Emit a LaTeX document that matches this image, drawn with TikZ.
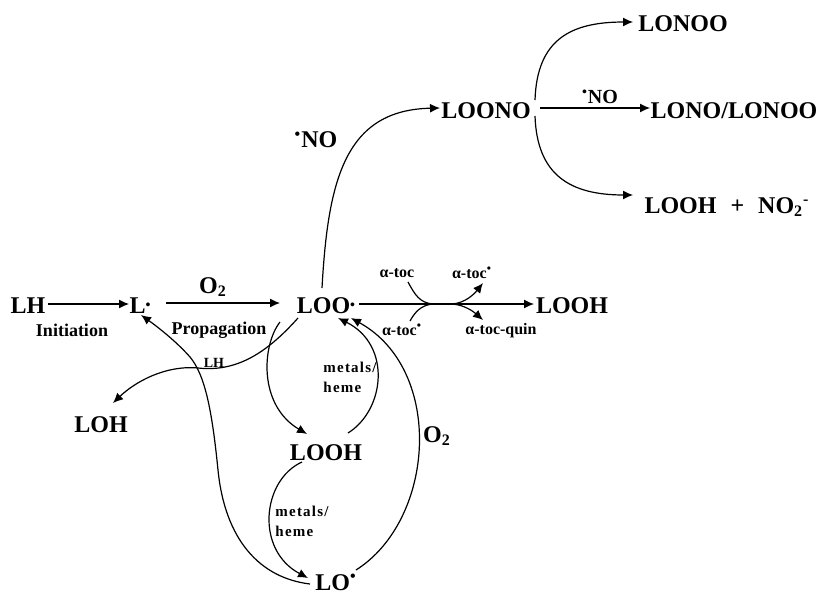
\documentclass[tikz,border=0pt]{standalone}
\usepackage{fontspec}
\setmainfont{Liberation Serif}
\newfontfamily\spacedfont[LetterSpace=8]{Liberation Serif}
\usetikzlibrary{arrows.meta}
\newcommand{\rdot}{\raisebox{1.8pt}{\fontsize{7}{7}\selectfont •}}
\newcommand{\sdot}{\textsuperscript{•}}
\begin{document}
\begin{tikzpicture}[x=0.5pt,y=-0.5pt,
 sp/.style={font=\fontsize{12}{14}\selectfont\bfseries, inner sep=0pt, anchor=base},
 lab/.style={font=\fontsize{9}{10}\selectfont\bfseries, inner sep=0pt},
 big/.style={font=\fontsize{12}{14}\selectfont\bfseries, inner sep=0pt},
 mid/.style={font=\fontsize{10}{12}\selectfont\bfseries, inner sep=0pt},
 toc/.style={font=\fontsize{8}{9}\selectfont\bfseries, inner sep=0pt},
 tiny/.style={font=\fontsize{7}{8}\selectfont\bfseries, inner sep=0pt},
 mh/.style={font=\spacedfont\bfseries\fontsize{7.5}{10}\selectfont, inner sep=0pt, align=left},
 conn/.style={line width=0.6pt, -{Latex[length=5pt,width=4.5pt]}},
 ln/.style={line width=0.6pt}]
\path[use as bounding box] (0,0) rectangle (823,594);

% species
\node[sp] (LH) at (28,313) {LH};
\node[sp] (L) at (140,313) {L\rdot};
\node[sp] (LOO) at (326,313) {LOO\rdot};
\node[sp] (LOOHr) at (572,313) {LOOH};
\node[sp] (LOH) at (101,432) {LOH};
\node[sp] (LOOHb) at (326,460) {LOOH};
\node[sp] (LO) at (336,590) {LO\sdot};
\node[sp] (LOONO) at (486,118) {LOONO};
\node[sp] (LONOO) at (683,32) {LONOO};
\node[sp] (LONO) at (734,118) {LONO/LONOO};
\node[sp] (LOOHN) at (727,213) {LOOH\hspace{4pt} + \hspace{4pt}NO\textsubscript{2}\textsuperscript{-}};

% labels
\node[lab] (init) at (72,330) {Initiation};
\node[lab] (prop) at (219,330) {Propagation};
\node[big] (o2a) at (213,287) {O\textsubscript{2}};
\node[big] (o2b) at (437,436) {O\textsubscript{2}};
\node[big] (no1) at (316,140) {\sdot NO};
\node[mid] (no2) at (600,97) {\sdot NO};
\node[toc] (t1) at (397,273) {α-toc};
\node[toc] (t2) at (472,273) {α-toc\sdot};
\node[toc] (t3) at (402,330) {α-toc\sdot};
\node[toc] (t4) at (501,331) {α-toc-quin};
\node[mh] (mh1) at (350,377) {metals/\\heme};
\node[mh] (mh2) at (302,521) {metals/\\heme};
\node[tiny] (lhs) at (214,363) {LH};

% straight arrows
\draw[conn] ([shift={(20,-9)}]LH.base) -- ([shift={(-11,-9)}]L.base);
\draw[conn] ([shift={(26,-10)}]L.base) -- ([shift={(-46,-10)}]LOO.base);
\draw[conn] ([shift={(33,-9)}]LOO.base) -- ([shift={(-38,-9)}]LOOHr.base);
\draw[conn] ([shift={(54,-10)}]LOONO.base) -- ([shift={(-84,-10)}]LONO.base);

% curved arrows
\draw[conn] ([shift={(-28,5)}]LOO.base) .. controls (265,355) and (235,372) .. (198,368)
  .. controls (165,365) and (135,382) .. ([shift={(12,-29)}]LOH.base);
\draw[conn] ([shift={(-26,-6)}]LO.base) .. controls (260,578) and (225,540) .. (218,470)
  .. controls (212,410) and (205,375) .. (190,357)
  .. controls (175,340) and (155,325) .. ([shift={(1,2)}]L.base);
\draw[conn] ([shift={(-46,9)}]LOO.base) .. controls (262,345) and (258,405) .. ([shift={(-19,-26)}]LOOHb.base);
\draw[conn] ([shift={(22,-27)}]LOOHb.base) .. controls (385,410) and (392,345) .. ([shift={(12,5)}]LOO.base);
\draw[conn] ([shift={(20,-20)}]LO.base) .. controls (435,520) and (445,370) .. ([shift={(25,5)}]LOO.base);
\draw[conn] ([shift={(-24,2)}]LOOHb.base) .. controls (262,480) and (255,550) .. ([shift={(-28,-12)}]LO.base);
\draw[conn] ([shift={(-4,-25)}]LOO.base) .. controls (328,180) and (345,110) .. ([shift={(-46,-10)}]LOONO.base);
\draw[conn] ([shift={(49,-18)}]LOONO.base) .. controls (537,40) and (570,22) .. ([shift={(-50,-10)}]LONOO.base);
\draw[conn] ([shift={(49,-2)}]LOONO.base) .. controls (537,175) and (570,195) .. ([shift={(-94,-18)}]LOOHN.base);

% alpha-tocopherol side arrows
\coordinate (j1) at (433,304);
\coordinate (j2) at (452,304);
\draw[ln] ([shift={(11,9)}]t1.center) .. controls (415,295) and (420,303) .. (j1);
\draw[ln] ([shift={(8,-9)}]t3.center) .. controls (415,312) and (421,305) .. (j1);
\draw[conn] (j2) .. controls (466,303) and (475,293) .. ([shift={(11,10)}]t2.center);
\draw[conn] (j2) .. controls (466,305) and (475,313) .. ([shift={(-18,-11)}]t4.center);
\end{tikzpicture}
\end{document}
